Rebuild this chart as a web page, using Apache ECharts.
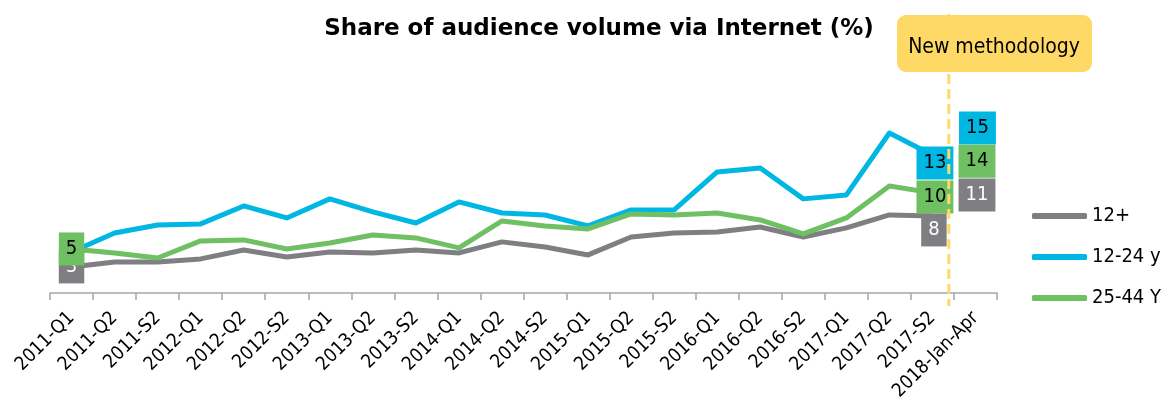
<!DOCTYPE html>
<html>
<head>
<meta charset="utf-8">
<script src="https://cdn.jsdelivr.net/npm/echarts@6/dist/echarts.min.js"></script>
<style>html,body{margin:0;padding:0;background:#fff}#c{width:1172px;height:408px}</style>
</head>
<body>
<div id="c"></div>
<script>
const categories = ['2011-Q1','2011-Q2','2011-S2','2012-Q1','2012-Q2','2012-S2','2013-Q1','2013-Q2','2013-S2','2014-Q1','2014-Q2','2014-S2','2015-Q1','2015-Q2','2015-S2','2016-Q1','2016-Q2','2016-S2','2017-Q1','2017-Q2','2017-S2','2018-Jan-Apr'];
const all12 = [3.47,3.89,3.89,4.15,4.91,4.32,4.74,4.66,4.91,4.66,5.60,5.17,4.49,6.02,6.36,6.45,6.87,6.02,6.79,7.89,7.81];
const y12_24 = [4.74,6.36,7.04,7.13,8.66,7.64,9.26,8.15,7.21,9.00,8.06,7.89,6.96,8.32,8.32,11.55,11.89,9.26,9.60,14.87,13.0];
const y25_44 = [5.0,4.66,4.23,5.68,5.77,5.0,5.51,6.19,5.94,5.09,7.38,6.96,6.70,7.98,7.89,8.06,7.47,6.28,7.64,10.36,9.77];
const newMethod = {'12+': 11, '12-24 y': 15, '25-44 Y': 14};
const seriesNames = ['12+','12-24 y','25-44 Y'];

const FONT = 'DejaVu Sans Condensed';
const colors = {'12+':'#7f7f83','12-24 y':'#00b7e4','25-44 Y':'#6fbf63'};
const textColors = {'12+':'#ffffff','12-24 y':'#000000','25-44 Y':'#000000'};
const lastOffsets = {'12+':[1.5,14],'12-24 y':[2.5,8],'25-44 Y':[2.5,4]};
const firstLabel = {'12+':true,'12-24 y':false,'25-44 Y':true};
const newOffsets = {'12+':[1.5,16.5],'12-24 y':[2,-3.5],'25-44 Y':[1.5,18]};

function labelStyle(name, offset){
  return {show:true, position:'inside', offset:offset, opacity:1,
    formatter: p => Math.round(p.value),
    backgroundColor: colors[name], color: textColors[name],
    fontFamily: FONT, fontSize: 20, lineHeight: 21, padding:[6,7]};
}

const values = {'12+':all12,'12-24 y':y12_24,'25-44 Y':y25_44};
const series = [];
seriesNames.forEach(name => {
  const arr = values[name];
  const data = arr.map((v,i) => {
    if (i === 0 && firstLabel[name]) return {value:v, label:labelStyle(name,[0,0])};
    if (i === arr.length-1) return {value:v, label:labelStyle(name,lastOffsets[name])};
    return v;
  });
  data.push(null);
  series.push({name:name, type:'line', data:data, symbol:'circle', symbolSize:0, showSymbol:true,
    lineStyle:{width:5, color:colors[name], join:'round'}, itemStyle:{color:colors[name]},
    label:{show:false}, silent:true, animation:false});
});
seriesNames.forEach(name => {
  const data = categories.map((c,i) => i === categories.length-1 ? newMethod[name] : null);
  series.push({name:name+' new', type:'scatter', data:data, symbolSize:0,
    itemStyle:{opacity:1, color:colors[name]},
    label:labelStyle(name,newOffsets[name]), z:5, animation:false, silent:true});
});

const chart = echarts.init(document.getElementById('c'), null, {renderer:'canvas'});
chart.setOption({
  animation:false,
  title:{text:'Share of audience volume via Internet (%)', left:594, textAlign:'center', top:13,
    textStyle:{fontFamily:'DejaVu Sans', fontWeight:'bold', fontSize:23, color:'#000'}},
  legend:{data:seriesNames, orient:'vertical', left:1032, top:206, padding:0, icon:'roundRect',
    itemWidth:55, itemHeight:6, itemGap:21,
    textStyle:{fontFamily:FONT, fontSize:20, lineHeight:20, color:'#000'}},
  grid:{left:50, right:175, top:58, bottom:115},
  xAxis:{type:'category', data:categories, boundaryGap:true,
    axisLine:{lineStyle:{color:'#a6a6a6', width:1.5}},
    axisTick:{show:true, length:7, lineStyle:{color:'#a6a6a6', width:1.5}},
    axisLabel:{rotate:45, interval:0, fontFamily:FONT, fontSize:19, color:'#000', margin:22}},
  yAxis:{type:'value', min:1.25, max:21.25, show:false, splitLine:{show:false}},
  series:series
});

const p20 = chart.convertToPixel({xAxisIndex:0}, categories[20]);
const p21 = chart.convertToPixel({xAxisIndex:0}, categories[21]);
const xBreak = p20 + 0.38*(p21-p20);
chart.setOption({graphic:[
  {type:'line', shape:{x1:xBreak, y1:14, x2:xBreak, y2:306}, style:{stroke:'#ffd966', lineWidth:3, lineDash:[10,5]}, z:100, silent:true},
  {type:'rect', shape:{x:897, y:15, width:195, height:57, r:9}, style:{fill:'#ffd966'}, z:110, silent:true},
  {type:'text', x:994, y:48, style:{text:'New methodology', fontFamily:FONT, fontSize:21, fill:'#000', align:'center', verticalAlign:'middle'}, z:111, silent:true}
]});
</script>
</body>
</html>
